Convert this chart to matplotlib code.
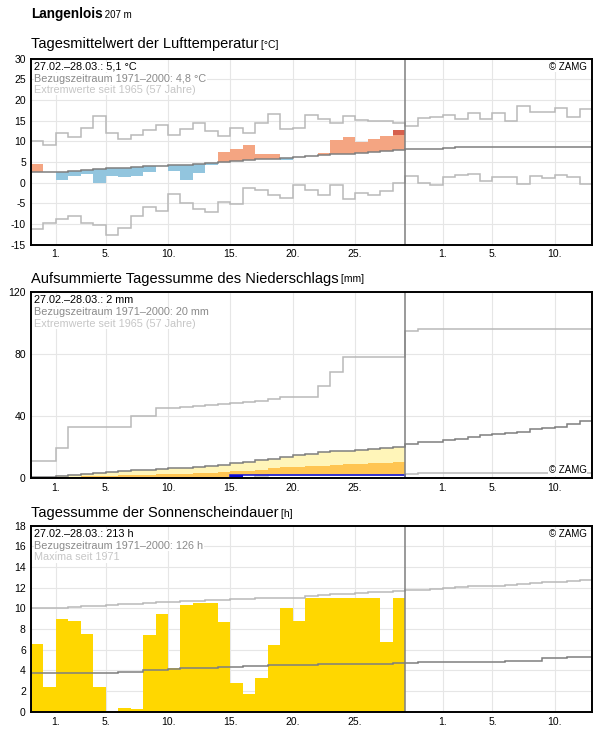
import numpy as np
import pandas as pd
import matplotlib
matplotlib.use("Agg")
import matplotlib.pyplot as plt

plt.rcParams["font.family"] = ["Liberation Sans", "DejaVu Sans"]
plt.rcParams["axes.unicode_minus"] = False

# Tage 27.02.2022 - 12.04.2022, Messwerte bis 28.03.
tage = pd.date_range("2022-02-27", periods=45)
n_akt = 30

# --- Lufttemperatur (Tagesmittel) ---
temp_2022 = [4.5, 2.5, 0.6, 1.5, 2.0, -0.1, 1.5, 1.3, 1.5, 2.6,
             3.9, 2.8, 0.6, 2.3, 4.3, 7.5, 8.0, 9.0, 7.0, 7.0,
             5.4, 6.2, 6.4, 7.2, 10.3, 10.9, 9.9, 10.6, 11.2, 12.8]
temp_dunkel_ab = 11.4   # dunkelroter Teil am letzten Tag
temp_mittel = [2.5, 2.5, 2.6, 2.8, 3.05, 3.3, 3.4, 3.6, 3.8, 3.9,
               4.1, 4.2, 4.3, 4.4, 4.7, 5.0, 5.3, 5.5, 5.7, 5.8,
               6.0, 6.2, 6.4, 6.6, 6.9, 7.0, 7.2, 7.4, 7.6, 7.8,
               8.0, 8.1, 8.2, 8.4, 8.5, 8.5, 8.5, 8.5, 8.5, 8.5,
               8.5, 8.5, 8.5, 8.5, 8.5]
temp_max = [10.1, 9.0, 11.9, 11.0, 13.1, 16.2, 11.9, 10.5, 11.5, 12.7,
            14.0, 11.5, 12.9, 14.4, 12.4, 11.2, 13.3, 12.0, 14.3, 16.6,
            13.0, 13.3, 16.3, 15.4, 14.5, 16.1, 15.1, 14.8, 15.0, 14.3,
            13.7, 15.7, 15.9, 16.4, 15.4, 16.9, 15.4, 16.7, 15.0, 18.5,
            17.0, 17.0, 18.0, 15.9, 17.8]
temp_min = [-11.3, -9.8, -8.9, -8.1, -9.8, -10.3, -12.7, -11.1, -8.2, -5.9,
            -7.0, -2.8, -5.0, -6.4, -7.2, -4.8, -5.2, -1.3, -1.9, -3.0,
            -3.7, -0.6, -1.7, -3.0, -0.6, -4.0, -2.5, -3.0, -2.1, -0.1,
            1.6, -0.1, -0.6, 1.4, 1.7, 2.1, 0.4, 1.4, 1.4, -0.3,
            1.5, 1.1, 1.8, 1.4, -0.3]

# --- Niederschlag (aufsummiert) ---
ns_2022 = [0, 0, 0, 0, 0, 0, 0, 0, 0, 0,
           0, 0, 0, 0, 0, 0, 2.0, 2.0, 2.0, 2.0,
           2.0, 2.0, 2.0, 2.0, 2.0, 2.0, 2.0, 2.0, 2.0, 2.0]
ns_tag_2022 = [0, 0, 0, 0, 0, 0, 0, 0, 0, 0,
               0, 0, 0, 0, 0, 0, 2.0, 0, 0, 0,
               0, 0, 0, 0, 0, 0, 0, 0, 0, 0]
ns_halb = [0.2, 0.4, 0.6, 0.8, 1.1, 1.4, 1.6, 1.8, 2.0, 2.2,
           2.4, 2.5, 2.6, 3.0, 3.3, 3.7, 4.4, 4.8, 5.4, 6.3,
           6.9, 7.1, 7.5, 8.0, 8.4, 8.8, 8.8, 9.6, 9.7, 10.1]
ns_mittel = [0.6, 0.9, 1.4, 2.0, 2.8, 3.5, 4.0, 4.4, 4.9, 5.4,
             5.9, 6.3, 6.7, 7.3, 7.9, 8.6, 9.4, 10.4, 11.4, 12.4,
             13.5, 14.6, 15.5, 16.6, 17.2, 17.7, 18.3, 18.7, 19.4, 20.0,
             22.2, 23.0, 23.5, 24.3, 25.2, 26.7, 27.6, 28.2, 29.3, 30.0,
             31.4, 32.5, 33.2, 34.9, 36.8]
ns_max = [10.8, 10.8, 19.4, 33.0, 33.0, 33.0, 33.0, 33.0, 40.3, 40.3,
          45.2, 45.2, 45.9, 46.5, 47.0, 47.6, 48.5, 49.0, 49.5, 51.0,
          52.3, 52.3, 52.3, 59.2, 68.5, 78.2, 78.2, 78.2, 78.2, 78.2,
          95.0, 96.3, 96.3, 96.3, 96.3, 96.3, 96.3, 96.3, 96.3, 96.3,
          96.3, 96.3, 96.3, 96.3, 96.3]
ns_min = [0, 0, 0, 0, 0, 0, 0, 0, 0, 0,
          0, 0, 0, 0, 0, 0, 0, 0, 1.0, 2.0,
          2.0, 2.0, 2.0, 2.0, 2.0, 2.0, 2.0, 2.0, 2.0, 2.0,
          2.8, 3.0, 3.0, 3.0, 3.0, 3.0, 3.0, 3.0, 3.0, 3.0,
          3.0, 3.0, 3.0, 3.0, 3.0]

# --- Sonnenscheindauer ---
sonne_2022 = [6.6, 2.4, 9.0, 8.8, 7.5, 2.4, 0.0, 0.4, 0.3, 7.4,
              9.5, 4.2, 10.3, 10.5, 10.5, 8.7, 2.8, 1.7, 3.3, 6.5,
              10.0, 8.8, 11.0, 11.0, 11.0, 11.0, 11.0, 11.0, 6.7, 11.0]
sonne_mittel = [3.78, 3.78, 3.78, 3.78, 3.78, 3.78, 3.78, 3.88, 3.88, 4.0,
                4.0, 4.1, 4.25, 4.25, 4.25, 4.35, 4.35, 4.45, 4.45, 4.55,
                4.55, 4.55, 4.55, 4.65, 4.65, 4.65, 4.65, 4.65, 4.65, 4.7,
                4.75, 4.85, 4.85, 4.85, 4.85, 4.85, 4.85, 4.85, 4.95, 4.95,
                4.95, 5.15, 5.15, 5.3, 5.3]
sonne_max = [9.99, 9.99, 10.05, 10.1, 10.2, 10.25, 10.3, 10.4, 10.45, 10.55,
             10.6, 10.65, 10.75, 10.75, 10.85, 10.85, 10.9, 10.95, 11.0, 11.0,
             11.05, 11.05, 11.2, 11.3, 11.35, 11.4, 11.5, 11.55, 11.6, 11.65,
             11.75, 11.8, 11.9, 11.95, 12.05, 12.15, 12.2, 12.2, 12.3, 12.4,
             12.5, 12.55, 12.55, 12.65, 12.75]

kanten = np.arange(len(tage) + 1)
x_akt = np.arange(n_akt)
tick_pos = [i for i, d in enumerate(tage) if d.day in (1, 5, 10, 15, 20, 25)]
tick_lab = [f"{tage[i].day}." for i in tick_pos]

W, H = 596, 729
fig = plt.figure(figsize=(W / 100, H / 100), dpi=100)

c_mittel = "#7f7f7f"
c_extrem = "#b9b9b9"
c_grid = "#e6e6e6"


def achse(top_px, ylim, yticks):
    ax = fig.add_axes([30.7 / W, 1 - (top_px + 186) / H, 561.6 / W, 186 / H])
    ax.set_xlim(0, len(tage))
    ax.set_ylim(*ylim)
    ax.set_yticks(yticks)
    ax.set_xticks(tick_pos)
    ax.set_xticklabels(tick_lab)
    ax.tick_params(length=0, labelsize=7.5, pad=3.5)
    ax.grid(color=c_grid, lw=0.8)
    ax.set_axisbelow(True)
    for s in ax.spines.values():
        s.set_linewidth(1.4)
    return ax


def info(ax, zeilen):
    farben = ["black", "#8a8a8a", "#c6c6c6"]
    for i, (z, f) in enumerate(zip(zeilen, farben)):
        ax.annotate(z, xy=(0, 1), xycoords="axes fraction",
                    xytext=(2.6, -2.5 - i * 8.3), textcoords="offset points",
                    va="top", ha="left", fontsize=7.8, color=f, zorder=10,
                    bbox=dict(facecolor="white", edgecolor="none", pad=0.3))


def zamg(ax, unten=False):
    ax.annotate("© ZAMG", xy=(1, 0 if unten else 1), xycoords="axes fraction",
                xytext=(-4, 2 if unten else -2.5), textcoords="offset points",
                va="bottom" if unten else "top", ha="right", fontsize=7,
                zorder=10, bbox=dict(facecolor="white", edgecolor="none", pad=0.3))


def titel(y_px, text, einheit):
    t = fig.text(30.7 / W, 1 - y_px / H, text, fontsize=10.5, va="baseline")
    r = fig.canvas.get_renderer()
    bb = t.get_window_extent(r)
    fig.text(bb.x1 / W, 1 - y_px / H, " " + einheit, fontsize=7.5, va="baseline")


# Kopf
t = fig.text(30.7 / W, 1 - 18.3 / H, "Langenlois", fontsize=9.8, fontweight="bold", va="baseline")
bb = t.get_window_extent(fig.canvas.get_renderer())
fig.text(bb.x1 / W, 1 - 18.3 / H, " 207 m", fontsize=7, va="baseline")

# 1. Temperatur
titel(48.3, "Tagesmittelwert der Lufttemperatur", "[°C]")
ax1 = achse(58.5, (-15, 30), np.arange(-15, 31, 5))
diff = np.array(temp_2022) - np.array(temp_mittel[:n_akt])
farben = ["#f4a582" if d >= 0 else "#92c5de" for d in diff]
ax1.bar(x_akt, diff, bottom=temp_mittel[:n_akt], width=1, align="edge", color=farben)
ax1.bar(x_akt[-1], temp_2022[-1] - temp_dunkel_ab, bottom=temp_dunkel_ab, width=1,
        align="edge", color="#d6604d")
ax1.stairs(temp_max, kanten, color=c_extrem, lw=1.1)
ax1.stairs(temp_min, kanten, color=c_extrem, lw=1.1)
ax1.stairs(temp_mittel, kanten, color=c_mittel, lw=1.1)
ax1.axvline(n_akt, color=c_mittel, lw=1.1)
info(ax1, ["27.02.–28.03.: 5,1 °C", "Bezugszeitraum 1971–2000: 4,8 °C",
           "Extremwerte seit 1965 (57 Jahre)"])
zamg(ax1)

# 2. Niederschlag
titel(282.5, "Aufsummierte Tagessumme des Niederschlags", "[mm]")
ax2 = achse(292.0, (0, 120), [0, 40, 80, 120])
k_akt = kanten[:n_akt + 1]
ax2.stairs(ns_mittel[:n_akt], k_akt, baseline=0, fill=True, color="#fff5b9", lw=0)
ax2.stairs(ns_halb, k_akt, baseline=0, fill=True, color="#ffc552", lw=0)
ax2.stairs(ns_2022, k_akt, baseline=0, fill=True, color="white", lw=0)
ax2.stairs(ns_min, kanten, color=c_extrem, lw=1.1)
ax2.bar(x_akt, ns_tag_2022, width=1, align="edge", color="#0b0bd6")
ax2.stairs(ns_2022, k_akt, color="#0b0bd6", lw=1.1)
ax2.stairs(ns_max, kanten, color=c_extrem, lw=1.1)
ax2.stairs(ns_mittel, kanten, color=c_mittel, lw=1.1)
ax2.axvline(n_akt, color=c_mittel, lw=1.1)
info(ax2, ["27.02.–28.03.: 2 mm", "Bezugszeitraum 1971–2000: 20 mm",
           "Extremwerte seit 1965 (57 Jahre)"])
zamg(ax2, unten=True)

# 3. Sonnenschein
titel(516.7, "Tagessumme der Sonnenscheindauer", "[h]")
ax3 = achse(525.7, (0, 18), np.arange(0, 19, 2))
ax3.bar(x_akt, sonne_2022, width=1, align="edge", color="#ffd700")
ax3.stairs(sonne_max, kanten, color=c_extrem, lw=1.1)
ax3.stairs(sonne_mittel, kanten, color=c_mittel, lw=1.1)
ax3.axvline(n_akt, color=c_mittel, lw=1.1)
info(ax3, ["27.02.–28.03.: 213 h", "Bezugszeitraum 1971–2000: 126 h", "Maxima seit 1971"])
zamg(ax3)

fig.savefig("out.png", dpi=100)
